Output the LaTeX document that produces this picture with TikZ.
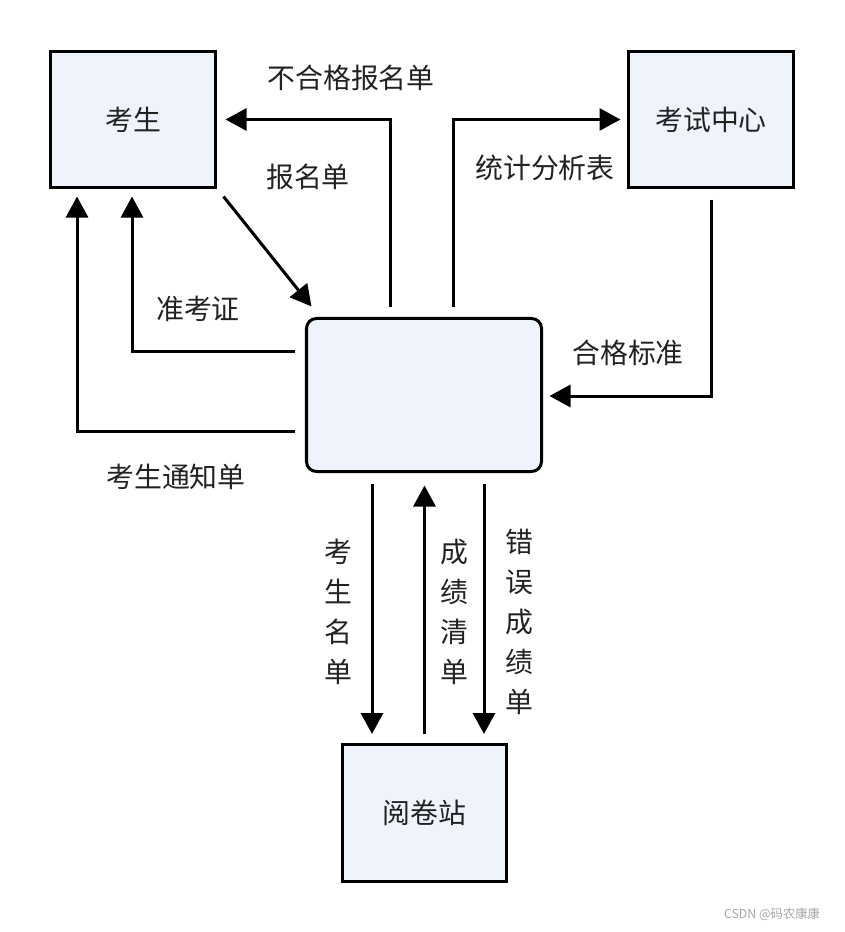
\documentclass[tikz,border=0pt]{standalone}
\usepackage{fontspec}
\setmainfont{Noto Sans CJK SC}
\usepackage{tikz}
\usetikzlibrary{arrows.meta,calc}
\tikzset{>={Triangle[length=0.63cm,width=0.66cm]}}
\definecolor{boxfill}{HTML}{EEF3FC}
\definecolor{ink}{HTML}{222222}

\begin{document}
\begin{tikzpicture}[x=0.03cm, y=-0.03cm, line width=0.09cm,
		box/.style={rectangle,draw,fill=boxfill,minimum width=4.95cm,minimum height=4.08cm,text=ink},
		lbl/.style={text=ink,inner sep=0pt},
		vlbl/.style={text=ink,inner sep=0pt,align=center,font=\fontsize{23.8}{34.2}\selectfont},
		font=\fontsize{23.8}{28}\selectfont]
			\useasboundingbox[fill=white] (0,0) rectangle (844,932);
			\node (ks) at (133,119.5) [box] {考生};
			\node (ksz) at (711,119.5) [box] {考试中心};
			\node (mid) at (424,395) [box,rounded corners=0.3cm,minimum width=7.05cm,minimum height=4.59cm] {};
			\node (yjz) at (424.5,812.5) [box,minimum width=4.92cm,minimum height=4.11cm] {阅卷站};
			\draw[->] ($(ks.south east)+(6.5,7.5)$) to ($(mid.north west)+(6.5,-10.5)$);
			\draw[->] ($(mid.north)+(-34,-10)$) |- ($(ks.east)+(8.5,0)$);
			\draw[->] ($(mid.north)+(29,-10)$) |- ($(ksz.west)+(-6.5,0)$);
			\draw[->] ($(ksz.south)+(0,10.5)$) |- ($(mid.east)+(6.5,1)$);
			\draw[->] ($(mid.west)+(-9.5,-44)$) -| ($(ks.south)+(-1,7.5)$);
			\draw[->] ($(mid.west)+(-9.5,36)$) -| ($(ks.south)+(-56,7.5)$);
			\draw[->] ($(mid.south)+(-52,10.5)$) to ($(yjz.north)+(-52.5,-8.5)$);
			\draw[->] ($(yjz.north)+(0,-8.5)$) to ($(mid.south)+(0.5,12.5)$);
			\draw[->] ($(mid.south)+(60,10.5)$) to ($(yjz.north)+(59.5,-8.5)$);
			\node (l1) at (351,78) [lbl] {不合格报名单};
			\node (l2) at (308,177) [lbl] {报名单};
			\node (l3) at (545,168) [lbl] {统计分析表};
			\node (l4) at (628,353) [lbl] {合格标准};
			\node (l5) at (198,309) [lbl] {准考证};
			\node (l6) at (176,477) [lbl] {考生通知单};
			\node (l7) at (338,612) [vlbl] {考\\生\\名\\单};
			\node (l8) at (454,612) [vlbl] {成\\绩\\清\\单};
			\node (l9) at (519,622) [vlbl] {错\\误\\成\\绩\\单};
			%\node (wm) at (772,913) [lbl] {};
			\node (wm) at (772,914) [lbl,text=black!35,font=\fontsize{10.5}{12}\selectfont] {CSDN @码农康康};
		\end{tikzpicture}
\end{document}
